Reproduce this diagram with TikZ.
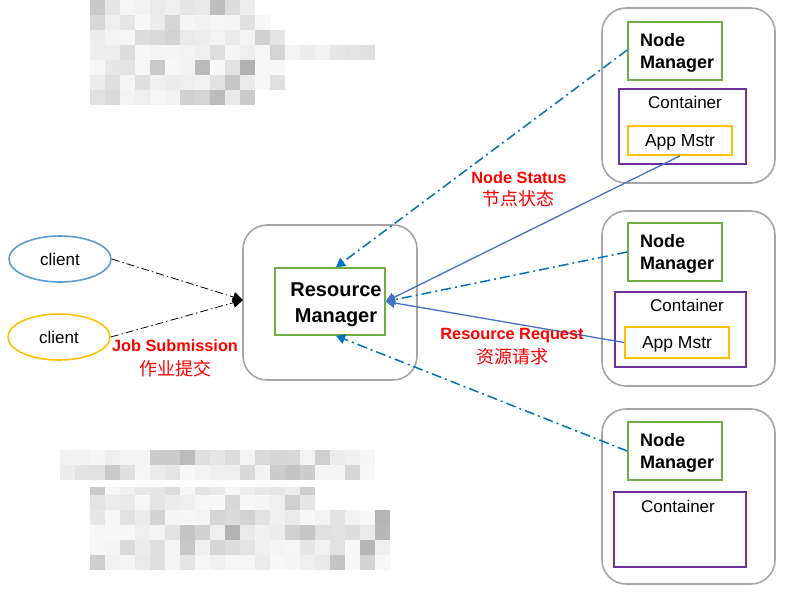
\documentclass[tikz,border=0pt]{standalone}
\usepackage{fontspec}
\setmainfont{Liberation Sans}
\newfontfamily\cjk{Noto Sans CJK SC}
\usetikzlibrary{arrows.meta,calc,shapes.geometric}
\definecolor{gbox}{HTML}{A6A6A6}
\definecolor{ngreen}{HTML}{70AD47}
\definecolor{cpurple}{HTML}{7030A0}
\definecolor{ayellow}{HTML}{FFC000}
\definecolor{cblue}{HTML}{5B9BD5}
\definecolor{dblue}{HTML}{0070C0}
\definecolor{sblue}{HTML}{4472C4}
\definecolor{lred}{HTML}{FF0000}
\tikzset{
  outerbox/.style={draw=gbox,line width=1.6pt,rounded corners=24pt},
  nmbox/.style={draw=ngreen,line width=1.6pt},
  ctbox/.style={draw=cpurple,line width=1.6pt},
  ambox/.style={draw=ayellow,line width=1.6pt},
  nmtext/.style={font=\fontsize{18}{22}\selectfont\bfseries,align=left,inner sep=0pt,anchor=west},
  rgtext/.style={font=\fontsize{17}{19}\selectfont,inner sep=0pt},
  amtext/.style={font=\fontsize{17.5}{19}\selectfont,inner sep=0pt},
  redlab/.style={text=lred,font=\fontsize{16.3}{19}\selectfont\bfseries,inner sep=0pt},
  redcjk/.style={text=lred,font=\fontsize{18}{20}\selectfont\cjk,inner sep=0pt},
  clientnode/.style={ellipse,line width=1.6pt,minimum width=102pt,minimum height=46pt,font=\fontsize{17}{19}\selectfont},
  statusline/.style={draw=dblue,line width=1.5pt,dash pattern=on 10pt off 4pt on 2pt off 4pt,-{Triangle[width=10pt,length=9pt]}},
  reqline/.style={draw=sblue,line width=1.3pt,-{Triangle[width=10pt,length=9pt]}},
  subline/.style={draw=black,line width=0.8pt,dash pattern=on 8pt off 3pt on 1.5pt off 3pt,-{Triangle[width=10pt,length=10pt]}},
}
\begin{document}
\begin{tikzpicture}[x=1pt,y=-1pt]
\useasboundingbox (0,0) rectangle (789,595);
\fill[white] (0,0) rectangle (789,595);
% mosaic (redacted) areas
\pgfmathsetseed{11}
\foreach \y/\xa/\xb in {0/90/255,15/90/270,30/90/285,45/90/375,60/90/285,75/90/285,90/90/255}{
  \pgfmathtruncatemacro{\n}{(\xb-\xa)/15-1}
  \foreach \i in {0,...,\n}{
    \pgfmathsetmacro{\g}{3+30*rnd*rnd}
    \fill[black!\g] (\xa+15*\i,\y) rectangle ++(15,15);
  }
}
\foreach \y/\xa/\xb in {450/60/375,465/60/375,487/90/315,495/90/315,510/90/390,525/90/390,540/90/390,555/90/390}{
  \pgfmathtruncatemacro{\n}{(\xb-\xa)/15-1}
  \foreach \i in {0,...,\n}{
    \pgfmathsetmacro{\g}{3+30*rnd*rnd}
    \fill[black!\g] (\xa+15*\i,\y) rectangle ++(15,15);
  }
}
% clients
\node[clientnode,draw=cblue] (c1) at (60,259) {client};
\node[clientnode,draw=ayellow] (c2) at (59,337) {client};
% resource manager
\draw[outerbox] (243,225) rectangle (417,380);
\node[nmbox,minimum width=110pt,minimum height=67pt,inner sep=0pt] (rm) at (330,301.5) {};
\node[font=\fontsize{20}{26}\selectfont\bfseries,align=center,inner sep=0pt] (rmt) at (336,305) {Resource\\Manager};
\coordinate (sub) at (243,300);
% node 1
\draw[outerbox] (602,8) rectangle (775,183);
\node[nmbox,minimum width=94pt,minimum height=58pt,inner sep=0pt] (nm1) at (675,51) {};
\node[nmtext] (nm1t) at (640,53) {Node\\Manager};
\draw[ctbox] (619,89) rectangle (746,164);
\node[rgtext] (ct1) at (685,102) {Container};
\node[ambox,minimum width=104pt,minimum height=29pt,inner sep=0pt] (am1) at (680,140.5) {};
\node[amtext] (am1t) at (680,142.5) {App Mstr};
% node 2
\draw[outerbox] (602,211) rectangle (775,386);
\node[nmbox,minimum width=94pt,minimum height=58pt,inner sep=0pt] (nm2) at (675,252) {};
\node[nmtext] (nm2t) at (640,254) {Node\\Manager};
\draw[ctbox] (615,292) rectangle (746,367);
\node[rgtext] (ct2) at (687,305) {Container};
\node[ambox,minimum width=104pt,minimum height=31pt,inner sep=0pt] (am2) at (677,342.5) {};
\node[amtext] (am2t) at (677,344.5) {App Mstr};
% node 3
\draw[outerbox] (602,409) rectangle (775,584);
\node[nmbox,minimum width=94pt,minimum height=58pt,inner sep=0pt] (nm3) at (675,451) {};
\node[nmtext] (nm3t) at (640,453) {Node\\Manager};
\draw[ctbox] (614,492) rectangle (746,567);
\node[rgtext] (ct3) at (678,506) {Container};
% connectors
\draw[subline] (c1.east) -- (sub);
\draw[subline] (c2.east) -- (sub);
\draw[statusline] ([yshift=1pt]nm1.west) -- ([xshift=6pt]rm.north);
\draw[statusline] (nm2.west) -- (rm.east);
\draw[statusline] (nm3.west) -- ([xshift=6pt]rm.south);
\draw[reqline] (am1.south) -- (rm.east);
\draw[reqline] (am2.west) -- (rm.east);
% labels
\node[redlab] (js) at (175,346) {Job Submission};
\node[redcjk] (jsc) at (175,368.5) {作业提交};
\node[redlab] (ns) at (519,178) {Node Status};
\node[redcjk] (nsc) at (518,198.5) {节点状态};
\node[redlab] (rr) at (512,336) {Resource Request};
\node[redcjk] (rrc) at (512,356.5) {资源请求};
\end{tikzpicture}
\end{document}
